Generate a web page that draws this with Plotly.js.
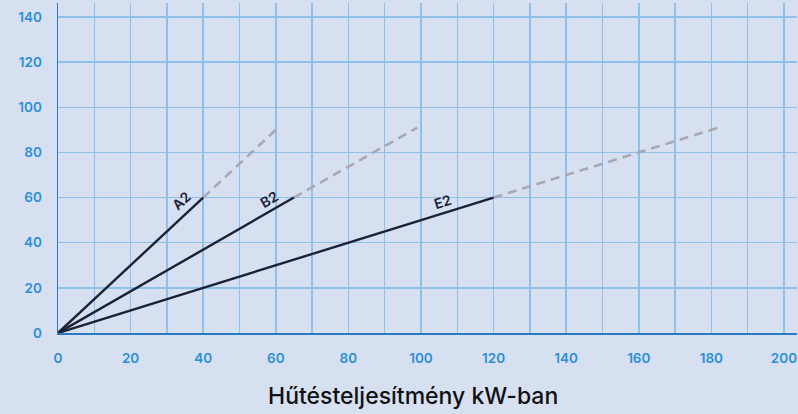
<!DOCTYPE html>
<html>
<head>
<meta charset="utf-8">
<script src="https://cdn.plot.ly/plotly-3.0.1.min.js"></script>
<style>html,body{margin:0;padding:0;background:#d7e0f1;}#chart{width:798px;height:414px;}</style>
</head>
<body>
<div id="chart"></div>
<script>
// Series names
const seriesNames = ["A2", "B2", "E2"];
// Solid segment: from origin to rated point (x = kW, y = value)
const solidX = [[0, 40], [0, 65], [0, 120]];
const solidY = [[0, 60], [0, 60], [0, 60]];
// Dashed extension
const dashX = [[40, 60], [65, 99], [120, 182]];
const dashY = [[60, 90], [60, 91], [60, 91]];
// Label anchor positions (data coords) and angles
const labelX = [34, 58, 106];
const labelY = [58.5, 59.3, 58.3];
const labelAngle = [-43, -30, -17];
// Axis ticks
const xTicks = [0, 20, 40, 60, 80, 100, 120, 140, 160, 180, 200];
const yTicks = [0, 20, 40, 60, 80, 100, 120, 140];
const xTitle = "Hűtésteljesítmény kW-ban";

const traces = [];
for (let i = 0; i < seriesNames.length; i++) {
  traces.push({x: dashX[i], y: dashY[i], mode: "lines", line: {color: "#a9a7b1", width: 2.6, dash: "9px,6px"}, hoverinfo: "skip", showlegend: false});
}
for (let i = 0; i < seriesNames.length; i++) {
  traces.push({x: solidX[i], y: solidY[i], mode: "lines", line: {color: "#1b2238", width: 2.4}, name: seriesNames[i], showlegend: false});
}
const annotations = seriesNames.map((n, i) => ({
  x: labelX[i], y: labelY[i], xref: "x", yref: "y", text: n, showarrow: false,
  textangle: labelAngle[i], font: {family: "Inter, Roboto, sans-serif", size: 14, color: "#1b2238", weight: 600}
}));
annotations.push({
  x: 0.48, y: -0.191, xref: "paper", yref: "paper", xanchor: "center", yanchor: "middle",
  text: xTitle, showarrow: false,
  font: {family: "Inter, Roboto, sans-serif", size: 23, color: "#111111", weight: 500}
});

const layout = {
  width: 798, height: 414,
  paper_bgcolor: "#d7e0f1", plot_bgcolor: "#d7e0f1",
  margin: {l: 58, r: 1, t: 3, b: 81},
  showlegend: false,
  font: {family: "Inter, Roboto, sans-serif"},
  xaxis: {
    range: [0, 203.6], tickvals: xTicks, ticktext: xTicks.map(String),
    showgrid: true, gridcolor: "#8fc0ea", gridwidth: 1.5,
    minor: {dtick: 10, showgrid: true, gridcolor: "#8fc0ea", gridwidth: 1.5},
    showline: true, linecolor: "#2a7cc2", linewidth: 1.5,
    zeroline: false, ticks: "", ticklabelstandoff: 12,
    tickfont: {size: 13.5, color: "#2a8fd6", weight: 600}
  },
  yaxis: {
    range: [0, 146.2], tickvals: yTicks, ticktext: yTicks.map(String),
    showgrid: true, gridcolor: "#8fc0ea", gridwidth: 1.5,
    showline: true, linecolor: "#2a7cc2", linewidth: 1.5,
    zeroline: false, ticks: "", ticklabelstandoff: 12,
    tickfont: {size: 13.5, color: "#2a8fd6", weight: 600}
  },
  annotations: annotations
};
Plotly.newPlot("chart", traces, layout, {staticPlot: true, displayModeBar: false});
</script>
</body>
</html>
